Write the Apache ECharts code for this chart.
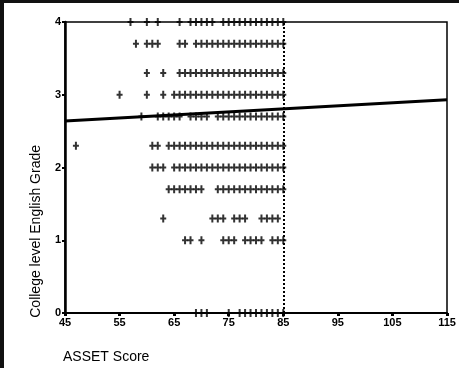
<!DOCTYPE html>
<html>
<head>
<meta charset="utf-8">
<script src="https://cdn.jsdelivr.net/npm/echarts@6/dist/echarts.min.js"></script>
<style>
html,body{margin:0;padding:0;background:#fff;}
#frame{position:absolute;left:0;top:0;width:459px;height:368px;box-sizing:border-box;border-left:4px solid #111;border-top:3px solid #111;}
#chart{position:absolute;left:0;top:0;width:459px;height:368px;}
</style>
</head>
<body>
<div id="chart"></div>
<div id="frame"></div>
<script>
// Scores (x) observed at each grade (y)
const grade40 = [57,60,62,66,68,69,70,71,72,74,75,76,77,78,79,80,81,82,83,84,85];
const grade37 = [58,60,61,62,66,67,69,70,71,72,73,74,75,76,77,78,79,80,81,82,83,84,85];
const grade33 = [60,63,66,67,68,69,70,71,72,73,74,75,76,77,78,79,80,81,82,83,84,85];
const grade30 = [55,60,63,65,66,67,68,69,70,71,72,73,74,75,76,77,78,79,80,81,82,83,84,85];
const grade27 = [59,62,63,64,65,66,68,69,70,71,73,74,75,76,77,78,79,80,81,82,83,84,85];
const grade23 = [47,61,62,64,65,66,67,68,69,70,71,72,73,74,75,76,77,78,79,80,81,82,83,84,85];
const grade20 = [61,62,63,65,66,67,68,69,70,71,72,73,74,75,76,77,78,79,80,81,82,83,84,85];
const grade17 = [64,65,66,67,68,69,70,73,74,75,76,77,78,79,80,81,82,83,84,85];
const grade13 = [63,72,73,74,76,77,78,81,82,83,84];
const grade10 = [67,68,70,74,75,76,78,79,80,81,83,84,85];
const grade00 = [69,70,71,75,77,78,79,80,81,82,83,84,85];
const gradeValues = [4.0,3.7,3.3,3.0,2.7,2.3,2.0,1.7,1.3,1.0,0];
const gradeRows = [grade40,grade37,grade33,grade30,grade27,grade23,grade20,grade17,grade13,grade10,grade00];
// Regression line end points
const regX = [45,115];
const regY = [2.64,2.93];

const points = [];
gradeRows.forEach((row,i)=>row.forEach(x=>points.push([x,gradeValues[i]])));

const chart = echarts.init(document.getElementById('chart'));
const font = 'Liberation Sans, Arial, sans-serif';
chart.setOption({
  animation:false,
  backgroundColor:'#fff',
  grid:{left:65,right:12,top:22,bottom:55,show:true,borderColor:'#000',borderWidth:1.5},
  xAxis:{type:'value',min:45,max:115,interval:10,
    axisLine:{onZero:false,lineStyle:{color:'#000',width:2}},
    axisTick:{show:true,length:3,lineStyle:{color:'#000',width:3}},
    axisLabel:{color:'#000',fontSize:11,fontWeight:'bold',fontFamily:font,margin:4},
    splitLine:{show:false}},
  yAxis:{type:'value',min:0,max:4,interval:1,
    axisLine:{show:true,lineStyle:{color:'#000',width:2.5}},
    axisTick:{show:true,length:3,lineStyle:{color:'#000',width:2}},
    axisLabel:{color:'#000',fontSize:11,fontWeight:'bold',fontFamily:font,margin:4},
    splitLine:{show:false}},
  graphic:[
    {type:'text',left:63,top:350,style:{text:'ASSET Score',fill:'#000',font:'14px '+font}},
    {type:'text',left:29,top:145,rotation:Math.PI/2,style:{text:'College level English Grade',fill:'#000',font:'14px '+font}}
  ],
  series:[
    {type:'scatter',data:points,symbol:'path://M2,0H4V8H2ZM0,3H6V5H0Z',symbolSize:[6,8],
     itemStyle:{color:'#000'},
     markLine:{silent:true,symbol:'none',label:{show:false},
       lineStyle:{color:'#000',type:'dotted',width:2},data:[{xAxis:85}]}},
    {type:'line',data:regX.map((x,i)=>[x,regY[i]]),symbol:'none',lineStyle:{color:'#000',width:3}}
  ]
});
</script>
</body>
</html>
